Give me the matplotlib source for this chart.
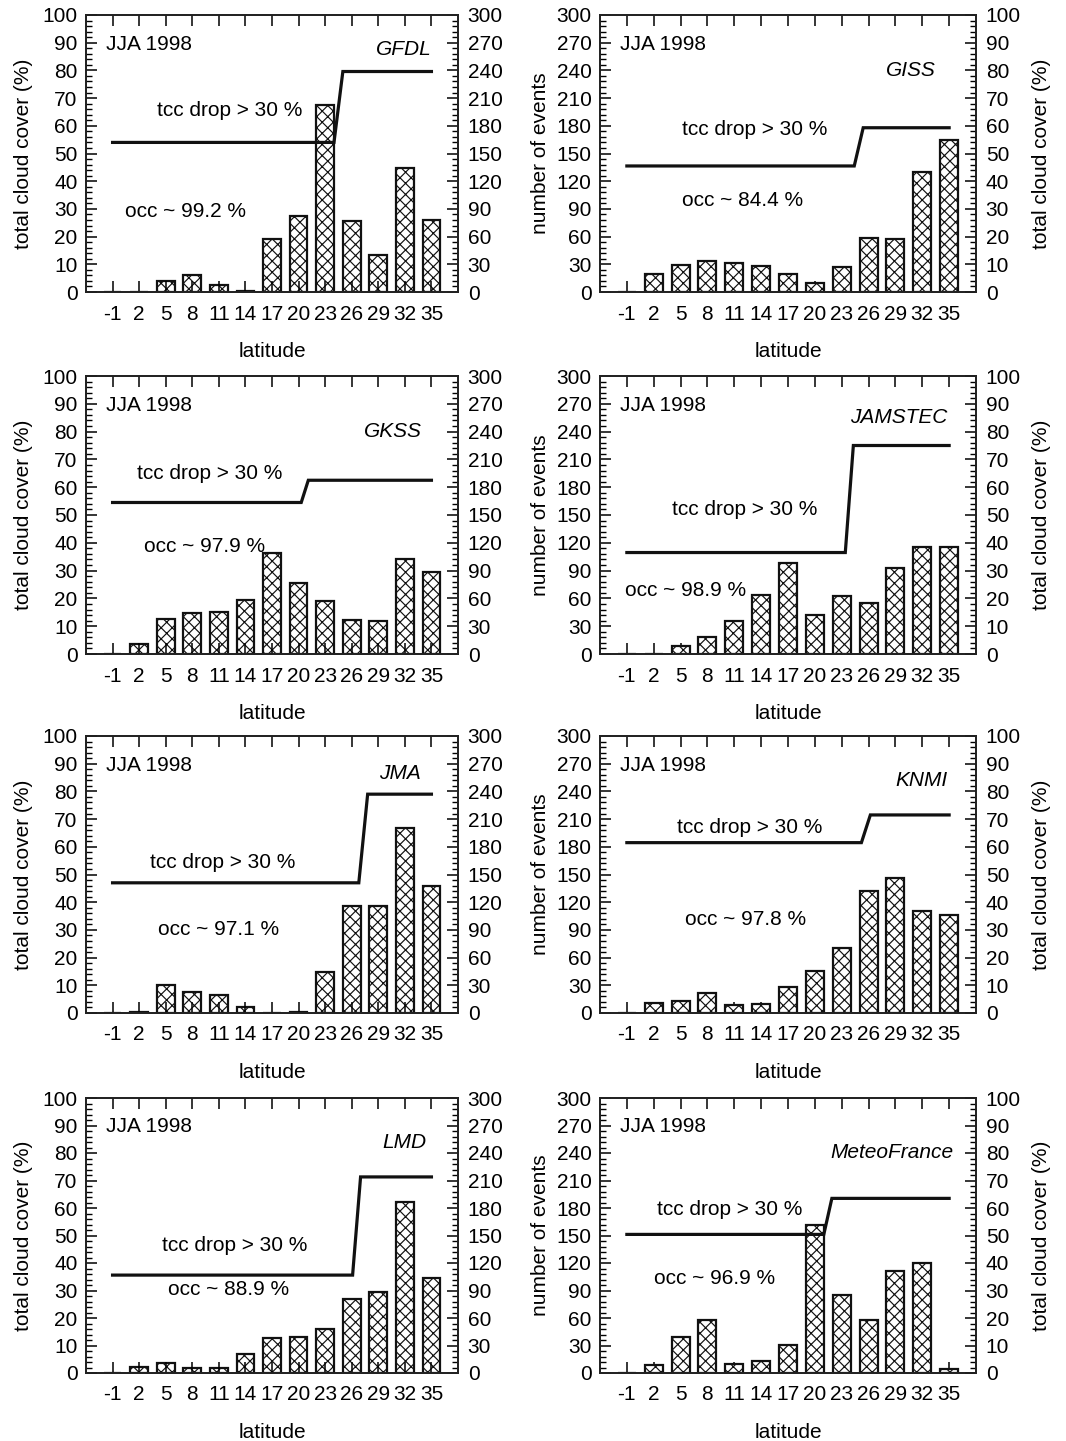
import matplotlib
matplotlib.use("Agg")
import matplotlib.pyplot as plt
from matplotlib.ticker import MultipleLocator

plt.rcParams['font.family'] = ['Liberation Sans', 'DejaVu Sans']
plt.rcParams['hatch.linewidth'] = 0.85

# ---------------- data ----------------
latitudes = [-1, 2, 5, 8, 11, 14, 17, 20, 23, 26, 29, 32, 35]
lat_labels = ['-1', '2', '5', '8', '11', '14', '17', '20', '23', '26', '29', '32', '35']

models = ['GFDL', 'GISS', 'GKSS', 'JAMSTEC', 'JMA', 'KNMI', 'LMD', 'MeteoFrance']
occ = ['99.2', '84.4', '97.9', '98.9', '97.1', '97.8', '88.9', '96.9']

# number of events per latitude bin
events_GFDL = [0, 0, 12, 18, 8, 1.5, 57, 82, 202, 77, 40, 134, 78]
events_GISS = [0, 19, 29, 34, 31, 28, 20, 10, 27, 58, 57, 130, 165]
events_GKSS = [0, 11, 38, 44, 45, 58, 109, 77, 57, 37, 36, 102, 88]
events_JAMSTEC = [0, 0, 9, 18, 36, 64, 98, 42, 63, 55, 93, 116, 115]
events_JMA = [0, 1.4, 30, 23, 20, 6.5, 0, 1.4, 44, 116, 116, 200, 138]
events_KNMI = [0, 11, 13, 22, 9, 10, 28, 45, 70, 132, 146, 110, 106]
events_LMD = [0, 7, 11, 5.5, 5.5, 21, 38, 39, 48, 81, 88, 187, 104]
events_MeteoFrance = [0, 9, 39, 58, 10, 13, 31, 161, 85, 58, 111, 120, 4]

# total cloud cover line (latitude vertices, tcc %)
tcc_lat_GFDL = [-1, 24.0, 25.0, 35]
tcc_GFDL = [54, 54, 79.6, 79.6]
tcc_lat_GISS = [-1, 24.4, 25.4, 35]
tcc_GISS = [45.5, 45.5, 59.3, 59.3]
tcc_lat_GKSS = [-1, 20.3, 21.1, 35]
tcc_GKSS = [54.5, 54.5, 62.5, 62.5]
tcc_lat_JAMSTEC = [-1, 23.4, 24.3, 35]
tcc_JAMSTEC = [36.5, 36.5, 75, 75]
tcc_lat_JMA = [-1, 26.8, 27.8, 35]
tcc_JMA = [47, 47, 79, 79]
tcc_lat_KNMI = [-1, 25.2, 26.2, 35]
tcc_KNMI = [61.5, 61.5, 71.5, 71.5]
tcc_lat_LMD = [-1, 26.1, 27.0, 35]
tcc_LMD = [35.6, 35.6, 71.3, 71.3]
tcc_lat_MeteoFrance = [-1, 21.0, 21.9, 35]
tcc_MeteoFrance = [50.4, 50.4, 63.5, 63.5]

events = [events_GFDL, events_GISS, events_GKSS, events_JAMSTEC,
          events_JMA, events_KNMI, events_LMD, events_MeteoFrance]
tcc_lat = [tcc_lat_GFDL, tcc_lat_GISS, tcc_lat_GKSS, tcc_lat_JAMSTEC,
           tcc_lat_JMA, tcc_lat_KNMI, tcc_lat_LMD, tcc_lat_MeteoFrance]
tcc = [tcc_GFDL, tcc_GISS, tcc_GKSS, tcc_JAMSTEC,
       tcc_JMA, tcc_KNMI, tcc_LMD, tcc_MeteoFrance]

# ---------------- layout (axes fractions) ----------------
name_pos = [(0.930, 0.874), (0.894, 0.798), (0.903, 0.800), (0.923, 0.850),
            (0.900, 0.866), (0.923, 0.840), (0.914, 0.840), (0.939, 0.800)]
drop_pos = [(0.190, 0.655), (0.218, 0.585), (0.137, 0.650), (0.191, 0.518),
            (0.172, 0.545), (0.205, 0.671), (0.204, 0.465), (0.152, 0.593)]
occ_pos = [(0.105, 0.289), (0.218, 0.332), (0.156, 0.385), (0.066, 0.230),
           (0.194, 0.300), (0.226, 0.336), (0.220, 0.302), (0.144, 0.345)]

W, H = 1066, 1441
fig = plt.figure(figsize=(W / 100, H / 100), dpi=100)

col_x = [(86, 458), (600, 976)]
row_y = [(15, 292), (376, 654), (736, 1013), (1098, 1373)]

FS = 15
INK = '#111111'


def style_axis(a):
    a.tick_params(axis='y', which='major', direction='in', length=8, width=1.1,
                  labelsize=FS, pad=6)
    a.tick_params(axis='y', which='minor', direction='in', length=4, width=1.0)


for i, model in enumerate(models):
    r, c = divmod(i, 2)
    x0, x1 = col_x[c]
    yt, yb = row_y[r]
    ax = fig.add_axes([x0 / W, 1 - yb / H, (x1 - x0) / W, (yb - yt) / H])
    ax2 = ax.twinx()

    if c == 0:
        tcc_ax, ev_ax = ax, ax2
    else:
        ev_ax, tcc_ax = ax, ax2

    ev_ax.bar(latitudes, events[i], width=2.0, facecolor='white', edgecolor=INK,
              hatch='xxx', linewidth=1.6, zorder=2)
    tcc_ax.plot(tcc_lat[i], tcc[i], color=INK, linewidth=2.3, zorder=3,
                solid_joinstyle='miter')

    if c == 0:
        ax.set_zorder(ax2.get_zorder() + 1)
        ax.patch.set_visible(False)
        ax2.patch.set_visible(True)
        ax2.patch.set_facecolor('white')

    tcc_ax.set_ylim(0, 100)
    tcc_ax.yaxis.set_major_locator(MultipleLocator(10))
    tcc_ax.yaxis.set_minor_locator(MultipleLocator(2))
    ev_ax.set_ylim(0, 300)
    ev_ax.yaxis.set_major_locator(MultipleLocator(30))
    ev_ax.yaxis.set_minor_locator(MultipleLocator(6))

    ax.set_xlim(-4, 38)
    ax.set_xticks(latitudes)
    ax.set_xticklabels(lat_labels)
    ax.tick_params(axis='x', which='major', direction='in', length=8, width=1.1,
                   top=True, bottom=True, labelsize=FS, pad=9)
    style_axis(ax)
    style_axis(ax2)
    ax2.tick_params(axis='y', pad=7)

    for a in (ax, ax2):
        for s in a.spines.values():
            s.set_linewidth(1.3)
            s.set_color('#222222')

    ax.set_xlabel('latitude', fontsize=FS, labelpad=13)
    if c == 0:
        ax.set_ylabel('total cloud cover (%)', fontsize=FS, labelpad=7)
    else:
        ax.set_ylabel('number of events', fontsize=FS, labelpad=5)
        ax2.set_ylabel('total cloud cover (%)', fontsize=FS, labelpad=8)

    ax.text(0.054, 0.895, 'JJA 1998', transform=ax.transAxes, fontsize=FS,
            ha='left', va='center', zorder=5)
    nx, ny = name_pos[i]
    ax.text(nx, ny, model, transform=ax.transAxes, fontsize=FS, style='italic',
            ha='right', va='center', zorder=5)
    dx, dy = drop_pos[i]
    ax.text(dx, dy, 'tcc drop > 30 %', transform=ax.transAxes, fontsize=FS,
            ha='left', va='center', zorder=5)
    ox, oy = occ_pos[i]
    ax.text(ox, oy, 'occ ~ ' + occ[i] + ' %', transform=ax.transAxes, fontsize=FS,
            ha='left', va='center', zorder=5)

fig.savefig('out.png', dpi=100)
